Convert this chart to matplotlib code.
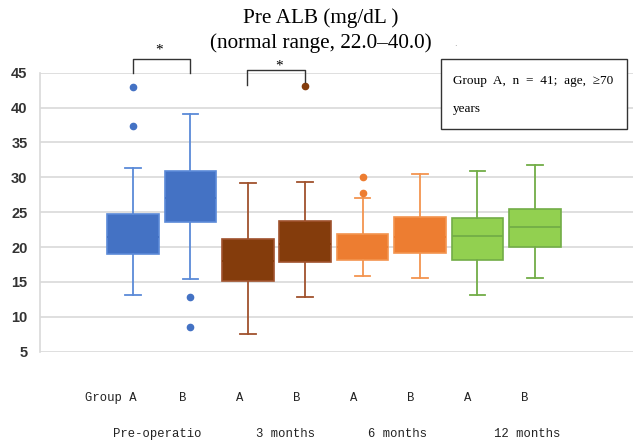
import matplotlib.pyplot as plt
from matplotlib.patches import Rectangle

# box statistics (mg/dL)
groups = ['Pre A', 'Pre B', '3m A', '3m B', '6m A', '6m B', '12m A', '12m B']
q1 = [19.0, 23.6, 15.2, 17.8, 18.2, 19.1, 18.2, 20.0]
med = [21.5, 27.0, 18.0, 20.5, 20.0, 21.5, 21.55, 22.9]
q3 = [24.8, 30.9, 21.2, 23.8, 21.9, 24.3, 24.1, 25.5]
whislo = [13.1, 15.4, 7.5, 12.8, 15.8, 15.5, 13.1, 15.5]
whishi = [31.4, 39.1, 29.2, 29.4, 27.1, 30.5, 30.9, 31.7]
fliers = [[37.3, 43.0], [12.8, 8.5], [], [43.1], [30.1, 27.7], [], [], []]

row1 = ['Group A', 'B', 'A', 'B', 'A', 'B', 'A', 'B']
row2 = ['Pre-operatio', '3 months', '6 months', '12 months']

face = ['#4472C4', '#4472C4', '#843C0C', '#843C0C', '#ED7D31', '#ED7D31', '#92D050', '#92D050']
edge = ['#5B8AD8', '#5B8AD8', '#A0522D', '#A0522D', '#F3944F', '#F3944F', '#72AD47', '#72AD47']
medc = ['#4472C4', '#4472C4', '#843C0C', '#843C0C', '#ED7D31', '#ED7D31', '#72AD47', '#72AD47']

fig = plt.figure(figsize=(6.35, 4.44), dpi=100)
ax = fig.add_axes([40 / 635, 1 - 351.7 / 444, 593 / 635, 279 / 444])

for i in range(len(groups)):
    st = [dict(q1=q1[i], med=med[i], q3=q3[i], whislo=whislo[i], whishi=whishi[i], fliers=fliers[i])]
    ax.bxp(st, positions=[i + 1], widths=0.9, capwidths=0.27, patch_artist=True,
           boxprops=dict(facecolor=face[i], edgecolor=edge[i], linewidth=1.2),
           whiskerprops=dict(color=edge[i], linewidth=1.3),
           capprops=dict(color=edge[i], linewidth=1.3),
           medianprops=dict(color=medc[i], linewidth=1.3),
           flierprops=dict(marker='o', markerfacecolor=face[i], markeredgecolor=face[i], markersize=4.5))

ax.set_xlim(-0.62, 9.71)
ax.set_ylim(5, 45)
ax.set_yticks(range(5, 50, 5))
ax.set_xticks([])
ax.yaxis.grid(True, color='#d9d9d9', linewidth=1.2)
ax.set_axisbelow(True)
for s in ['top', 'right', 'bottom']:
    ax.spines[s].set_visible(False)
ax.spines['left'].set_color('#d9d9d9')
ax.spines['left'].set_linewidth(1.2)
ax.tick_params(axis='y', length=0, pad=9, labelsize=10.5)
for t in ax.get_yticklabels():
    t.set_fontfamily('Liberation Sans')
    t.set_fontweight('bold')
    t.set_color('#333333')

# title
fig.text(321 / 635, 1 - 18 / 444, 'Pre ALB (mg/dL )', ha='center', va='center',
         family='Liberation Serif', fontsize=15.3)
fig.text(321 / 635, 1 - 43 / 444, '(normal range, 22.0\u201340.0)', ha='center', va='center',
         family='Liberation Serif', fontsize=15.3)
fig.text(455 / 635, 1 - 44 / 444, '.', ha='center', va='center', fontsize=6, color='#888888')

# significance brackets
bk = dict(color='#333333', linewidth=1.0, clip_on=False)
ax.plot([1, 1, 2, 2], [45.0, 46.9, 46.9, 45.0], **bk)
ax.text(1.45, 48.3, '*', ha='center', va='center', fontsize=11, family='Liberation Serif')
ax.plot([2.98, 2.98, 4.0, 4.0], [43.3, 45.4, 45.4, 43.6], **bk)
ax.text(3.55, 46.0, '*', ha='center', va='center', fontsize=11, family='Liberation Serif')

# note box
fig.patches.append(Rectangle((441 / 635, 1 - 129.3 / 444), 186 / 635, 70 / 444,
                             transform=fig.transFigure, facecolor='white',
                             edgecolor='#333333', linewidth=1.0))
fig.text(453 / 635, 1 - 81 / 444, 'Group  A,  n  =  41;  age,  \u226570', ha='left', va='center',
         family=['Liberation Serif', 'DejaVu Serif'], fontsize=9.5)
fig.text(453 / 635, 1 - 109 / 444, 'years', ha='left', va='center',
         family='Liberation Serif', fontsize=9.5)

# category labels under the chart
mono = dict(family=['Liberation Mono', 'DejaVu Sans Mono'], fontsize=8.8, color='#222222')
fig.text(137 / 635, 1 - 398 / 444, row1[0], ha='right', va='center', **mono)
for i in range(1, len(row1)):
    xp = 133 + i * 57.4 - 7 - i * 0.5
    fig.text(xp / 635, 1 - 398 / 444, row1[i], ha='center', va='center', **mono)
row2_x = [157, 285, 398, 527]
for lab, xp in zip(row2, row2_x):
    fig.text(xp / 635, 1 - 434 / 444, lab, ha='center', va='center', **mono)

fig.savefig('out.png', dpi=100)
